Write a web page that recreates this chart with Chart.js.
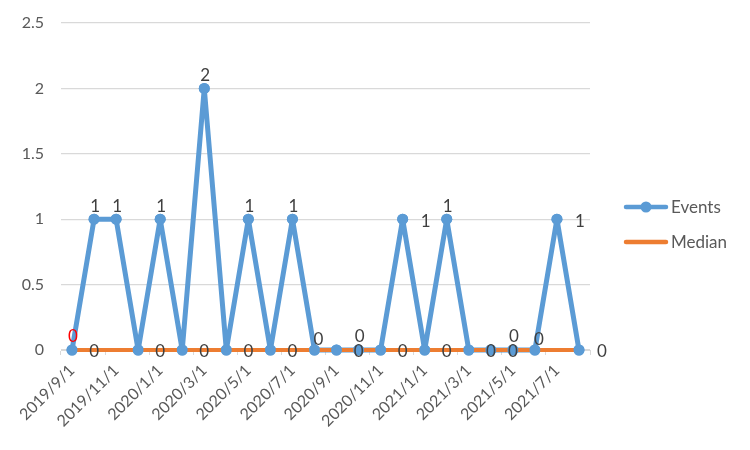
<!DOCTYPE html>
<html>
<head>
<meta charset="utf-8">
<script src="https://cdn.jsdelivr.net/npm/chart.js@4"></script>
<style>
  html, body { margin: 0; padding: 0; background: #fff; }
  #wrap { width: 750px; height: 450px; position: relative; }
</style>
</head>
<body>
<div id="wrap"><canvas id="chart" width="750" height="450"></canvas></div>
<script>
const months = [
  "2019/9/1", "2019/10/1", "2019/11/1", "2019/12/1", "2020/1/1", "2020/2/1",
  "2020/3/1", "2020/4/1", "2020/5/1", "2020/6/1", "2020/7/1", "2020/8/1",
  "2020/9/1", "2020/10/1", "2020/11/1", "2020/12/1", "2021/1/1", "2021/2/1",
  "2021/3/1", "2021/4/1", "2021/5/1", "2021/6/1", "2021/7/1", "2021/8/1"
];
const events = [0, 1, 1, 0, 1, 0, 2, 0, 1, 0, 1, 0, 0, 0, 0, 1, 0, 1, 0, 0, 0, 0, 1, 0];
const median = [0, 0, 0, 0, 0, 0, 0, 0, 0, 0, 0, 0, 0, 0, 0, 0, 0, 0, 0, 0, 0, 0, 0, 0];
const yTicks = [0, 0.5, 1, 1.5, 2, 2.5];

// where each data label sits (Excel left them scattered)
const eventLabelPos = ["above", "above", "above", "", "above", "", "above", "", "above", "", "above", "aboveRight",
  "", "above", "", "right", "", "above", "", "", "above", "aboveRight", "right", "right"];
const medianLabelPos = ["", "on", "", "", "on", "", "on", "", "on", "", "on", "",
  "", "on", "", "on", "", "on", "", "on", "on", "", "", ""];

const BLUE = "#5b9bd5";
const ORANGE = "#ed7d31";
const TEXT = "#595959";
const GRID = "#d9d9d9";
const FONT = "Lato, 'Open Sans', sans-serif";

const offsets = {
  above: [1, -13],
  aboveRight: [4, -10],
  right: [23, 2],
  on: [0, 2]
};

const labelsPlugin = {
  id: "dataLabels",
  afterDatasetsDraw(chart) {
    const ctx = chart.ctx;
    const xs = chart.scales.x, ys = chart.scales.y;

    // markers of Events sit above the orange line
    chart.getDatasetMeta(0).data.forEach(pt => pt.draw(ctx));

    ctx.save();
    ctx.font = "17px " + FONT;
    ctx.textAlign = "center";
    ctx.textBaseline = "middle";
    const put = (vals, pos) => {
      vals.forEach((v, i) => {
        if (!pos[i]) return;
        const [dx, dy] = offsets[pos[i]];
        ctx.fillStyle = (pos === eventLabelPos && i === 0) ? "#ff0000" : "#404040";
        ctx.fillText(String(v), xs.getPixelForValue(i) + dx, ys.getPixelForValue(v) + dy);
      });
    };
    put(events, eventLabelPos);
    put(median, medianLabelPos);
    ctx.restore();
  },
  afterDraw(chart) {
    const ctx = chart.ctx;
    ctx.save();
    ctx.lineCap = "round";
    ctx.lineWidth = 4.5;
    ctx.strokeStyle = BLUE;
    ctx.beginPath(); ctx.moveTo(626, 207); ctx.lineTo(666, 207); ctx.stroke();
    ctx.fillStyle = BLUE;
    ctx.beginPath(); ctx.arc(646, 207, 5.5, 0, Math.PI * 2); ctx.fill();
    ctx.strokeStyle = ORANGE;
    ctx.beginPath(); ctx.moveTo(626, 242); ctx.lineTo(666, 242); ctx.stroke();
    ctx.font = "17px " + FONT;
    ctx.fillStyle = TEXT;
    ctx.textBaseline = "middle";
    ctx.fillText("Events", 671, 208);
    ctx.fillText("Median", 671, 243);
    ctx.restore();
  }
};

new Chart(document.getElementById("chart"), {
  type: "line",
  data: {
    labels: months,
    datasets: [
      {
        label: "Events", data: events, order: 1, clip: false,
        borderColor: BLUE, backgroundColor: BLUE, borderWidth: 5,
        borderJoinStyle: "round", borderCapStyle: "round",
        pointRadius: 5.5, pointBackgroundColor: BLUE, pointBorderWidth: 0,
        tension: 0
      },
      {
        label: "Median", data: median, order: 0, clip: false,
        borderColor: ORANGE, backgroundColor: ORANGE, borderWidth: 4,
        borderCapStyle: "round",
        pointRadius: 0, tension: 0
      }
    ]
  },
  options: {
    responsive: false,
    animation: false,
    events: [],
    layout: { padding: { top: 23, right: 160, left: 0, bottom: 0 } },
    plugins: { legend: { display: false }, tooltip: { enabled: false } },
    scales: {
      x: {
        offset: true,
        afterFit: s => { s.height = 100; s.paddingLeft = 0; s.paddingRight = 0; },
        border: { color: GRID, width: 1 },
        grid: {
          offset: true, drawOnChartArea: false, drawTicks: true, tickLength: 5,
          color: c => (c.index === undefined || c.index % 2 === 0) ? GRID : "rgba(0,0,0,0)",
          lineWidth: 1
        },
        ticks: {
          autoSkip: false, maxRotation: 45, minRotation: 45, padding: 6,
          color: TEXT, font: { family: FONT, size: 16 },
          callback: (v, i) => i % 2 === 0 ? months[i] : ""
        }
      },
      y: {
        min: 0, max: 2.5,
        afterFit: s => { s.width = 61; s.paddingTop = 0; s.paddingBottom = 0; },
        afterBuildTicks: s => { s.ticks = yTicks.map(v => ({ value: v })); },
        border: { display: false },
        grid: { color: GRID, lineWidth: 1.3, drawTicks: false },
        ticks: {
          padding: 17, color: TEXT, font: { family: FONT, size: 16 },
          callback: v => String(v)
        }
      }
    }
  },
  plugins: [labelsPlugin]
});
</script>
</body>
</html>
